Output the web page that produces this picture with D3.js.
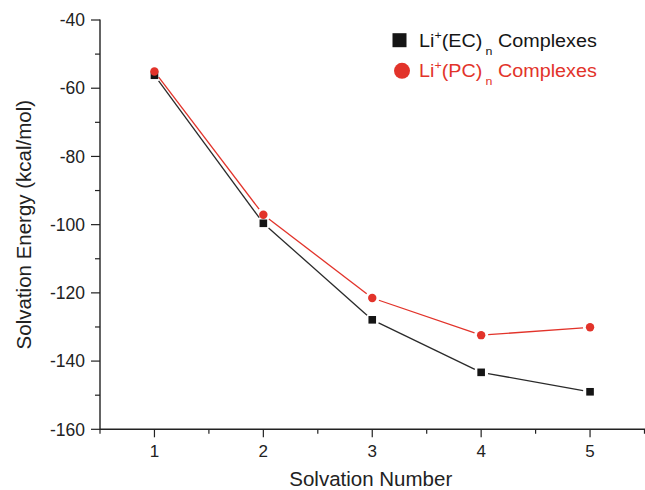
<!DOCTYPE html>
<html>
<head>
<meta charset="utf-8">
<script src="https://cdn.jsdelivr.net/npm/d3@7"></script>
<style>
  html, body { margin: 0; padding: 0; background: #fff; }
  svg { display: block; font-family: "Liberation Sans", Arial, Helvetica, sans-serif; }
</style>
</head>
<body>
<svg id="chart" width="645" height="490"></svg>
<script>
// ---- data ----
const solvationNumbers = [1, 2, 3, 4, 5];
const ecEnergies = [-56.2, -99.6, -127.9, -143.3, -149.0];
const pcEnergies = [-55.1, -97.1, -121.5, -132.4, -130.1];
const xTickValues = [1, 2, 3, 4, 5];
const yTickValues = [-40, -60, -80, -100, -120, -140, -160];
const seriesNames = ["EC", "PC"];

(function () {
const svg = d3.select("#chart");
const pLeft = 100, pRight = 644.5, pTop = 20, pBottom = 429.3;

const x = d3.scaleLinear().domain([0.5, 5.5]).range([pLeft, pRight]);
const y = d3.scaleLinear().domain([-160, -40]).range([pBottom, pTop]);

const axisColor = "#222";
const red = "#e2332a";
const black = "#151515";

// ---- axes ----
const xAxis = svg.append("g").attr("transform", `translate(0,${pBottom})`);
xAxis.append("line").attr("x1", pLeft).attr("x2", pRight + 0.5).attr("y1", 0).attr("y2", 0)
  .attr("stroke", axisColor).attr("stroke-width", 1.4);
const xMinor = d3.range(0.5, 5.51, 0.5).filter(v => !xTickValues.includes(v));
xAxis.selectAll(".xminor").data(xMinor).enter().append("line")
  .attr("x1", d => x(d)).attr("x2", d => x(d)).attr("y1", 0).attr("y2", 4.5)
  .attr("stroke", axisColor).attr("stroke-width", 1.2);
xAxis.selectAll(".xmajor").data(xTickValues).enter().append("line")
  .attr("x1", d => x(d)).attr("x2", d => x(d)).attr("y1", 0).attr("y2", 8)
  .attr("stroke", axisColor).attr("stroke-width", 1.2);
xAxis.selectAll(".xlab").data(xTickValues).enter().append("text")
  .attr("x", d => x(d)).attr("y", 27.5).attr("text-anchor", "middle")
  .attr("font-size", 17).attr("fill", "#222").text(d => d);

const yAxis = svg.append("g");
yAxis.append("line").attr("x1", pLeft).attr("x2", pLeft).attr("y1", pTop - 0.5).attr("y2", pBottom + 0.7)
  .attr("stroke", axisColor).attr("stroke-width", 1.4);
const yMinor = d3.range(-150, -40, 20);
yAxis.selectAll(".yminor").data(yMinor).enter().append("line")
  .attr("x1", pLeft - 5).attr("x2", pLeft).attr("y1", d => y(d)).attr("y2", d => y(d))
  .attr("stroke", axisColor).attr("stroke-width", 1.2);
yAxis.selectAll(".ymajor").data(yTickValues).enter().append("line")
  .attr("x1", pLeft - 9).attr("x2", pLeft).attr("y1", d => y(d)).attr("y2", d => y(d))
  .attr("stroke", axisColor).attr("stroke-width", 1.2);
yAxis.selectAll(".ylab").data(yTickValues).enter().append("text")
  .attr("x", 85).attr("y", d => y(d) + 6.2).attr("text-anchor", "end")
  .attr("font-size", 17.5).attr("fill", "#222").text(d => d);

// axis titles
svg.append("text").attr("x", (pLeft + pRight) / 2 - 1.5).attr("y", 486)
  .attr("text-anchor", "middle").attr("font-size", 20.5).attr("fill", "#222")
  .text("Solvation Number");
svg.append("text")
  .attr("transform", `translate(31,${(pTop + pBottom) / 2}) rotate(-90)`)
  .attr("text-anchor", "middle").attr("font-size", 20.5).attr("fill", "#222")
  .text("Solvation Energy (kcal/mol)");

// ---- series lines with gaps near markers ----
function drawSeries(values, color, gap) {
  const pts = solvationNumbers.map((n, i) => [x(n), y(values[i])]);
  const g = svg.append("g");
  for (let i = 0; i < pts.length - 1; i++) {
    const [x1, y1] = pts[i], [x2, y2] = pts[i + 1];
    const dx = x2 - x1, dy = y2 - y1, L = Math.hypot(dx, dy);
    const ux = dx / L, uy = dy / L;
    g.append("line")
      .attr("x1", x1 + ux * gap).attr("y1", y1 + uy * gap)
      .attr("x2", x2 - ux * gap).attr("y2", y2 - uy * gap)
      .attr("stroke", color).attr("stroke-width", 1.3);
  }
  return pts;
}
const ecPts = drawSeries(ecEnergies, "#2a2a2a", 7);
const pcPts = drawSeries(pcEnergies, red, 7);

// markers
svg.append("g").selectAll("rect").data(ecPts).enter().append("rect")
  .attr("x", d => d[0] - 3.8).attr("y", d => d[1] - 3.8)
  .attr("width", 7.6).attr("height", 7.6).attr("fill", black);
svg.append("g").selectAll("circle").data(pcPts).enter().append("circle")
  .attr("cx", d => d[0]).attr("cy", d => d[1]).attr("r", 4.2).attr("fill", red);

// ---- legend ----
const legend = svg.append("g");
legend.append("rect").attr("x", 392.5).attr("y", 33.2).attr("width", 14).attr("height", 14).attr("fill", black);
legend.append("circle").attr("cx", 402).attr("cy", 70.8).attr("r", 8).attr("fill", red);

function legendText(yBase, name, color) {
  const t = legend.append("text")
    .attr("transform", `translate(419,${yBase}) scale(1.13,1)`)
    .attr("font-size", 17.5).attr("fill", color);
  t.append("tspan").text("Li");
  t.append("tspan").attr("font-size", 11).attr("dy", -7.5).text("+");
  t.append("tspan").attr("dy", 7.5).text(`(${name})`);
  t.append("tspan").attr("font-size", 11).attr("dx", 3).attr("dy", 8).text("n");
  t.append("tspan").attr("dy", -8).text(" Complexes");
}
legendText(46.7, seriesNames[0], "#151515");
legendText(76.7, seriesNames[1], red);
})();
</script>
</body>
</html>
